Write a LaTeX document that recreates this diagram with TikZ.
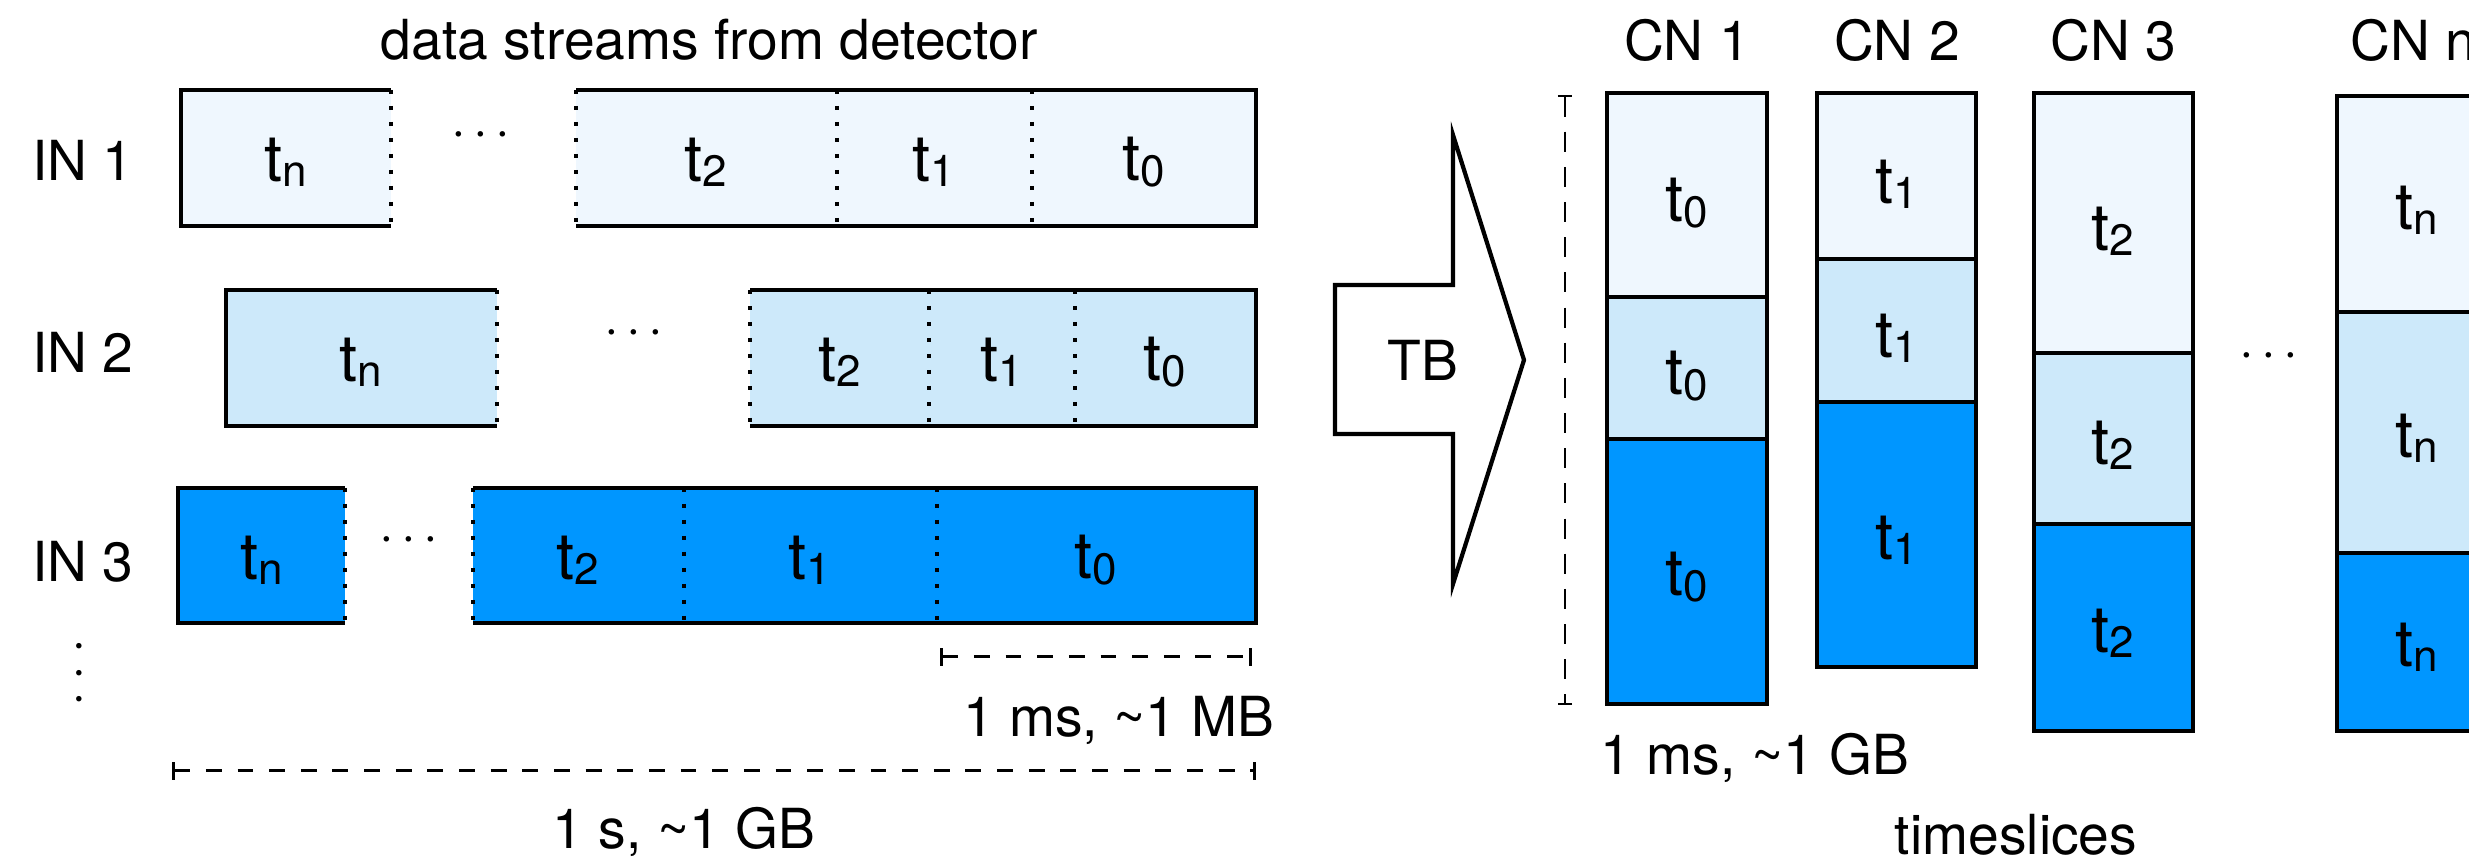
\documentclass[tikz,border=0pt]{standalone}
\usepackage{fontspec}
\setmainfont{TeX Gyre Heros}
\usetikzlibrary{arrows.meta}
\definecolor{lightb}{RGB}{239,247,254}
\definecolor{midb}{RGB}{205,233,250}
\definecolor{darkb}{RGB}{0,150,255}
\newcommand{\tsb}[1]{{\fontsize{18.5}{20}\selectfont t}\raisebox{-1.5pt}{\fontsize{12.5}{14}\selectfont #1}}
\newcommand{\hdots}{\textperiodcentered\hspace{2pt}\textperiodcentered\hspace{2pt}\textperiodcentered}
\begin{document}
\begin{tikzpicture}[x=0.01cm,y=-0.01cm,
  solidl/.style={line width=1.35pt},
  dotl/.style={line width=1.2pt, dash pattern=on 1.15pt off 3.4pt},
  diml/.style={line width=0.85pt, dash pattern=on 4.5pt off 4.5pt},
  vdiml/.style={line width=0.6pt, dash pattern=on 5.7pt off 4.3pt},
  lbl/.style={font=\fontsize{15.7}{18}\selectfont, inner sep=0pt},
  dotsl/.style={font=\fontsize{15}{18}\selectfont, inner sep=0pt}]
\useasboundingbox (0,0) rectangle (2469,862);

% title
\node[lbl] (title) at (709,40) {data streams from detector};

% ---------- IN 1 ----------
\node[lbl] (in1) at (83,160) {IN 1};
\fill[lightb] (181,90) rectangle (391,226);
\draw[solidl] (391,90) -- (181,90) -- (181,226) -- (391,226);
\draw[dotl] (391,90) -- (391,226);
\node[lbl] (a1n) at (286,162) {\tsb{n}};
\node[dotsl] (d1) at (481,140) {\hdots};
\fill[lightb] (576,90) rectangle (1256,226);
\draw[solidl] (576,90) -- (1256,90) -- (1256,226) -- (576,226);
\draw[dotl] (576,90) -- (576,226);
\draw[dotl] (837,90) -- (837,226);
\draw[dotl] (1032,90) -- (1032,226);
\node[lbl] (a12) at (706,162) {\tsb{2}};
\node[lbl] (a11) at (934,162) {\tsb{1}};
\node[lbl] (a10) at (1144,162) {\tsb{0}};

% ---------- IN 2 ----------
\node[lbl] (in2) at (83,352) {IN 2};
\fill[midb] (226,290) rectangle (497,426);
\draw[solidl] (497,290) -- (226,290) -- (226,426) -- (497,426);
\draw[dotl] (497,290) -- (497,426);
\node[lbl] (b1n) at (361,362) {\tsb{n}};
\node[dotsl] (d2) at (634,338) {\hdots};
\fill[midb] (750,290) rectangle (1256,426);
\draw[solidl] (750,290) -- (1256,290) -- (1256,426) -- (750,426);
\draw[dotl] (750,290) -- (750,426);
\draw[dotl] (929,290) -- (929,426);
\draw[dotl] (1075,290) -- (1075,426);
\node[lbl] (b12) at (840,362) {\tsb{2}};
\node[lbl] (b11) at (1002,362) {\tsb{1}};
\node[lbl] (b10) at (1165,362) {\tsb{0}};

% ---------- IN 3 ----------
\node[lbl] (in3) at (83,562) {IN 3};
\fill[darkb] (178,488) rectangle (345,623);
\draw[solidl] (345,488) -- (178,488) -- (178,623) -- (345,623);
\draw[dotl] (345,488) -- (345,623);
\node[lbl] (c1n) at (262,560) {\tsb{n}};
\node[dotsl] (d3) at (409,545) {\hdots};
\fill[darkb] (473,488) rectangle (1256,623);
\draw[solidl] (473,488) -- (1256,488) -- (1256,623) -- (473,623);
\draw[dotl] (473,488) -- (473,623);
\draw[dotl] (684,488) -- (684,623);
\draw[dotl] (937,488) -- (937,623);
\node[lbl] (c12) at (578,560) {\tsb{2}};
\node[lbl] (c11) at (810,560) {\tsb{1}};
\node[lbl] (c10) at (1096,560) {\tsb{0}};

% vertical dots
\node[dotsl, rotate=90] (vd) at (85,673) {\textperiodcentered\hspace{3.4pt}\textperiodcentered\hspace{3.4pt}\textperiodcentered};

% dimension lines
\coordinate (ms1a) at (940,657);
\coordinate (ms1b) at (1252,657);
\draw[diml, {Bar[width=5pt]}-{Bar[width=5pt]}] (ms1a) -- (ms1b);
\node[lbl] (msl) at (1119,720) {1 ms, \textasciitilde 1 MB};
\coordinate (s1a) at (172,771);
\coordinate (s1b) at (1256,771);
\draw[diml, {Bar[width=5pt]}-{Bar[width=5pt]}] (s1a) -- (s1b);
\node[lbl] (sl) at (684,832) {1 s, \textasciitilde 1 GB};

% ---------- TB arrow ----------
\draw[line width=1.2pt, fill=white, line join=miter] (1335,285) -- (1453,285) -- (1453,135) -- (1524,360)
  -- (1453,584) -- (1453,434) -- (1335,434) -- cycle;
\node[lbl] (tb) at (1423,360) {TB};

% vertical dimension
\coordinate (va) at (1565,95);
\coordinate (vb) at (1565,705);
\draw[vdiml, {Bar[width=4pt]}-{Bar[width=4pt]}] (va) -- (vb);
\node[lbl] (gbl) at (1755,758) {1 ms, \textasciitilde 1 GB};

% ---------- CN columns ----------
% CN 1
\node[lbl] (cn1) at (1687,40) {CN 1};
\fill[lightb] (1607,93) rectangle (1767,297);
\fill[midb] (1607,297) rectangle (1767,439);
\fill[darkb] (1607,439) rectangle (1767,704);
\draw[solidl] (1607,93) rectangle (1767,704);
\draw[solidl] (1607,297) -- (1767,297);
\draw[solidl] (1607,439) -- (1767,439);
\node[lbl] (e1) at (1687,203) {\tsb{0}};
\node[lbl] (e2) at (1687,376) {\tsb{0}};
\node[lbl] (e3) at (1687,577) {\tsb{0}};

% CN 2
\node[lbl] (cn2) at (1897,40) {CN 2};
\fill[lightb] (1817,93) rectangle (1976,259);
\fill[midb] (1817,259) rectangle (1976,402);
\fill[darkb] (1817,402) rectangle (1976,667);
\draw[solidl] (1817,93) rectangle (1976,667);
\draw[solidl] (1817,259) -- (1976,259);
\draw[solidl] (1817,402) -- (1976,402);
\node[lbl] (f1) at (1897,184) {\tsb{1}};
\node[lbl] (f2) at (1897,338) {\tsb{1}};
\node[lbl] (f3) at (1897,540) {\tsb{1}};

% CN 3
\node[lbl] (cn3) at (2113,40) {CN 3};
\fill[lightb] (2034,93) rectangle (2193,353);
\fill[midb] (2034,353) rectangle (2193,524);
\fill[darkb] (2034,524) rectangle (2193,731);
\draw[solidl] (2034,93) rectangle (2193,731);
\draw[solidl] (2034,353) -- (2193,353);
\draw[solidl] (2034,524) -- (2193,524);
\node[lbl] (g1) at (2113,231) {\tsb{2}};
\node[lbl] (g2) at (2113,445) {\tsb{2}};
\node[lbl] (g3) at (2113,633) {\tsb{2}};

\node[dotsl] (d4) at (2269,361) {\hdots};

% CN n
\node[lbl] (cnn) at (2413,40) {CN n};
\fill[lightb] (2337,96) rectangle (2497,312);
\fill[midb] (2337,312) rectangle (2497,553);
\fill[darkb] (2337,553) rectangle (2497,731);
\draw[solidl] (2337,96) rectangle (2497,731);
\draw[solidl] (2337,312) -- (2497,312);
\draw[solidl] (2337,553) -- (2497,553);
\node[lbl] (h1) at (2417,210) {\tsb{n}};
\node[lbl] (h2) at (2417,438) {\tsb{n}};
\node[lbl] (h3) at (2417,647) {\tsb{n}};

\node[lbl] (ts) at (2016,835) {timeslices};
\end{tikzpicture}
\end{document}
